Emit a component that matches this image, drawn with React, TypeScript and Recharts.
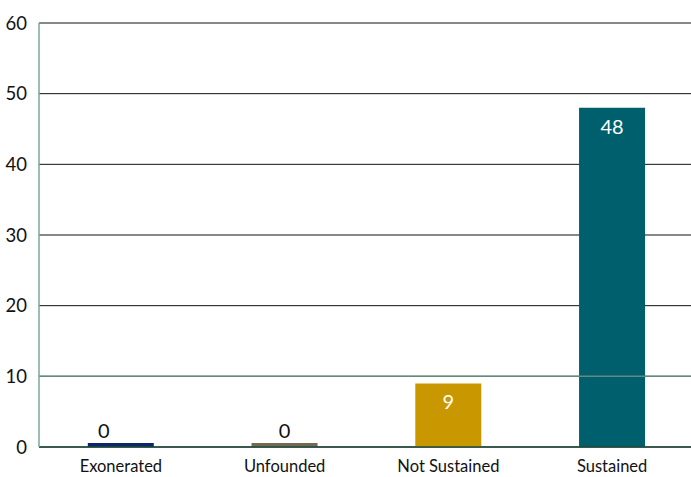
import { Bar, BarChart, CartesianGrid, Cell, LabelList, ReferenceLine, XAxis, YAxis } from "recharts";

const categories = ["Exonerated", "Unfounded", "Not Sustained", "Sustained"];
const counts = [0, 0, 9, 48];
const barColors = ["#0b2769", "#736a52", "#c99700", "#005f6d"];
const yTicks = [0, 10, 20, 30, 40, 50, 60];

const data = categories.map((name, i) => ({ name, count: counts[i] }));

const FONT = "Lato, 'Open Sans', sans-serif";

function ValueLabel(props: any) {
  const { x, y, width, height, value, index } = props;
  const cx = x + width / 2;
  if (!value) {
    // the first zero label sits a bit left of its bar in the original
    const shift = index === 0 ? -17 : 0;
    return (
      <text x={cx + shift} y={y + height - 9} textAnchor="middle" fill="#111" fontSize={20} fontFamily={FONT}>
        {value}
      </text>
    );
  }
  return (
    <text x={cx} y={y + 26} textAnchor="middle" fill="#fff" fontSize={20} fontFamily={FONT}>
      {value}
    </text>
  );
}

export default function App() {
  return (
    <div style={{ position: "absolute", left: 0, top: 0, width: 691, height: 477, overflow: "hidden", background: "#fff" }}>
      <BarChart
        width={694}
        height={477}
        data={data}
        margin={{ top: 23, right: 0, left: 0, bottom: 0 }}
        barCategoryGap="29.8%"
      >
        <CartesianGrid vertical={false} stroke="#111" strokeWidth={1} />
        <ReferenceLine y={10} stroke="#5e8c7e" strokeWidth={1.5} />
        <XAxis
          dataKey="name"
          height={30}
          tickLine={false}
          axisLine={{ stroke: "#1f4a3c", strokeWidth: 1.5 }}
          tick={{ fontSize: 16.5, fill: "#111", fontFamily: FONT }}
          tickMargin={7}
        />
        <YAxis
          width={39}
          domain={[0, 60]}
          ticks={yTicks}
          tickLine={false}
          axisLine={{ stroke: "#7aa898", strokeWidth: 1.5 }}
          tick={{ fontSize: 18.5, fill: "#111", fontFamily: FONT }}
          tickMargin={6}
        />
        <Bar dataKey="count" minPointSize={4} isAnimationActive={false}>
          {data.map((d, i) => (
            <Cell key={d.name} fill={barColors[i]} />
          ))}
          <LabelList dataKey="count" content={ValueLabel} />
        </Bar>
      </BarChart>
    </div>
  );
}
